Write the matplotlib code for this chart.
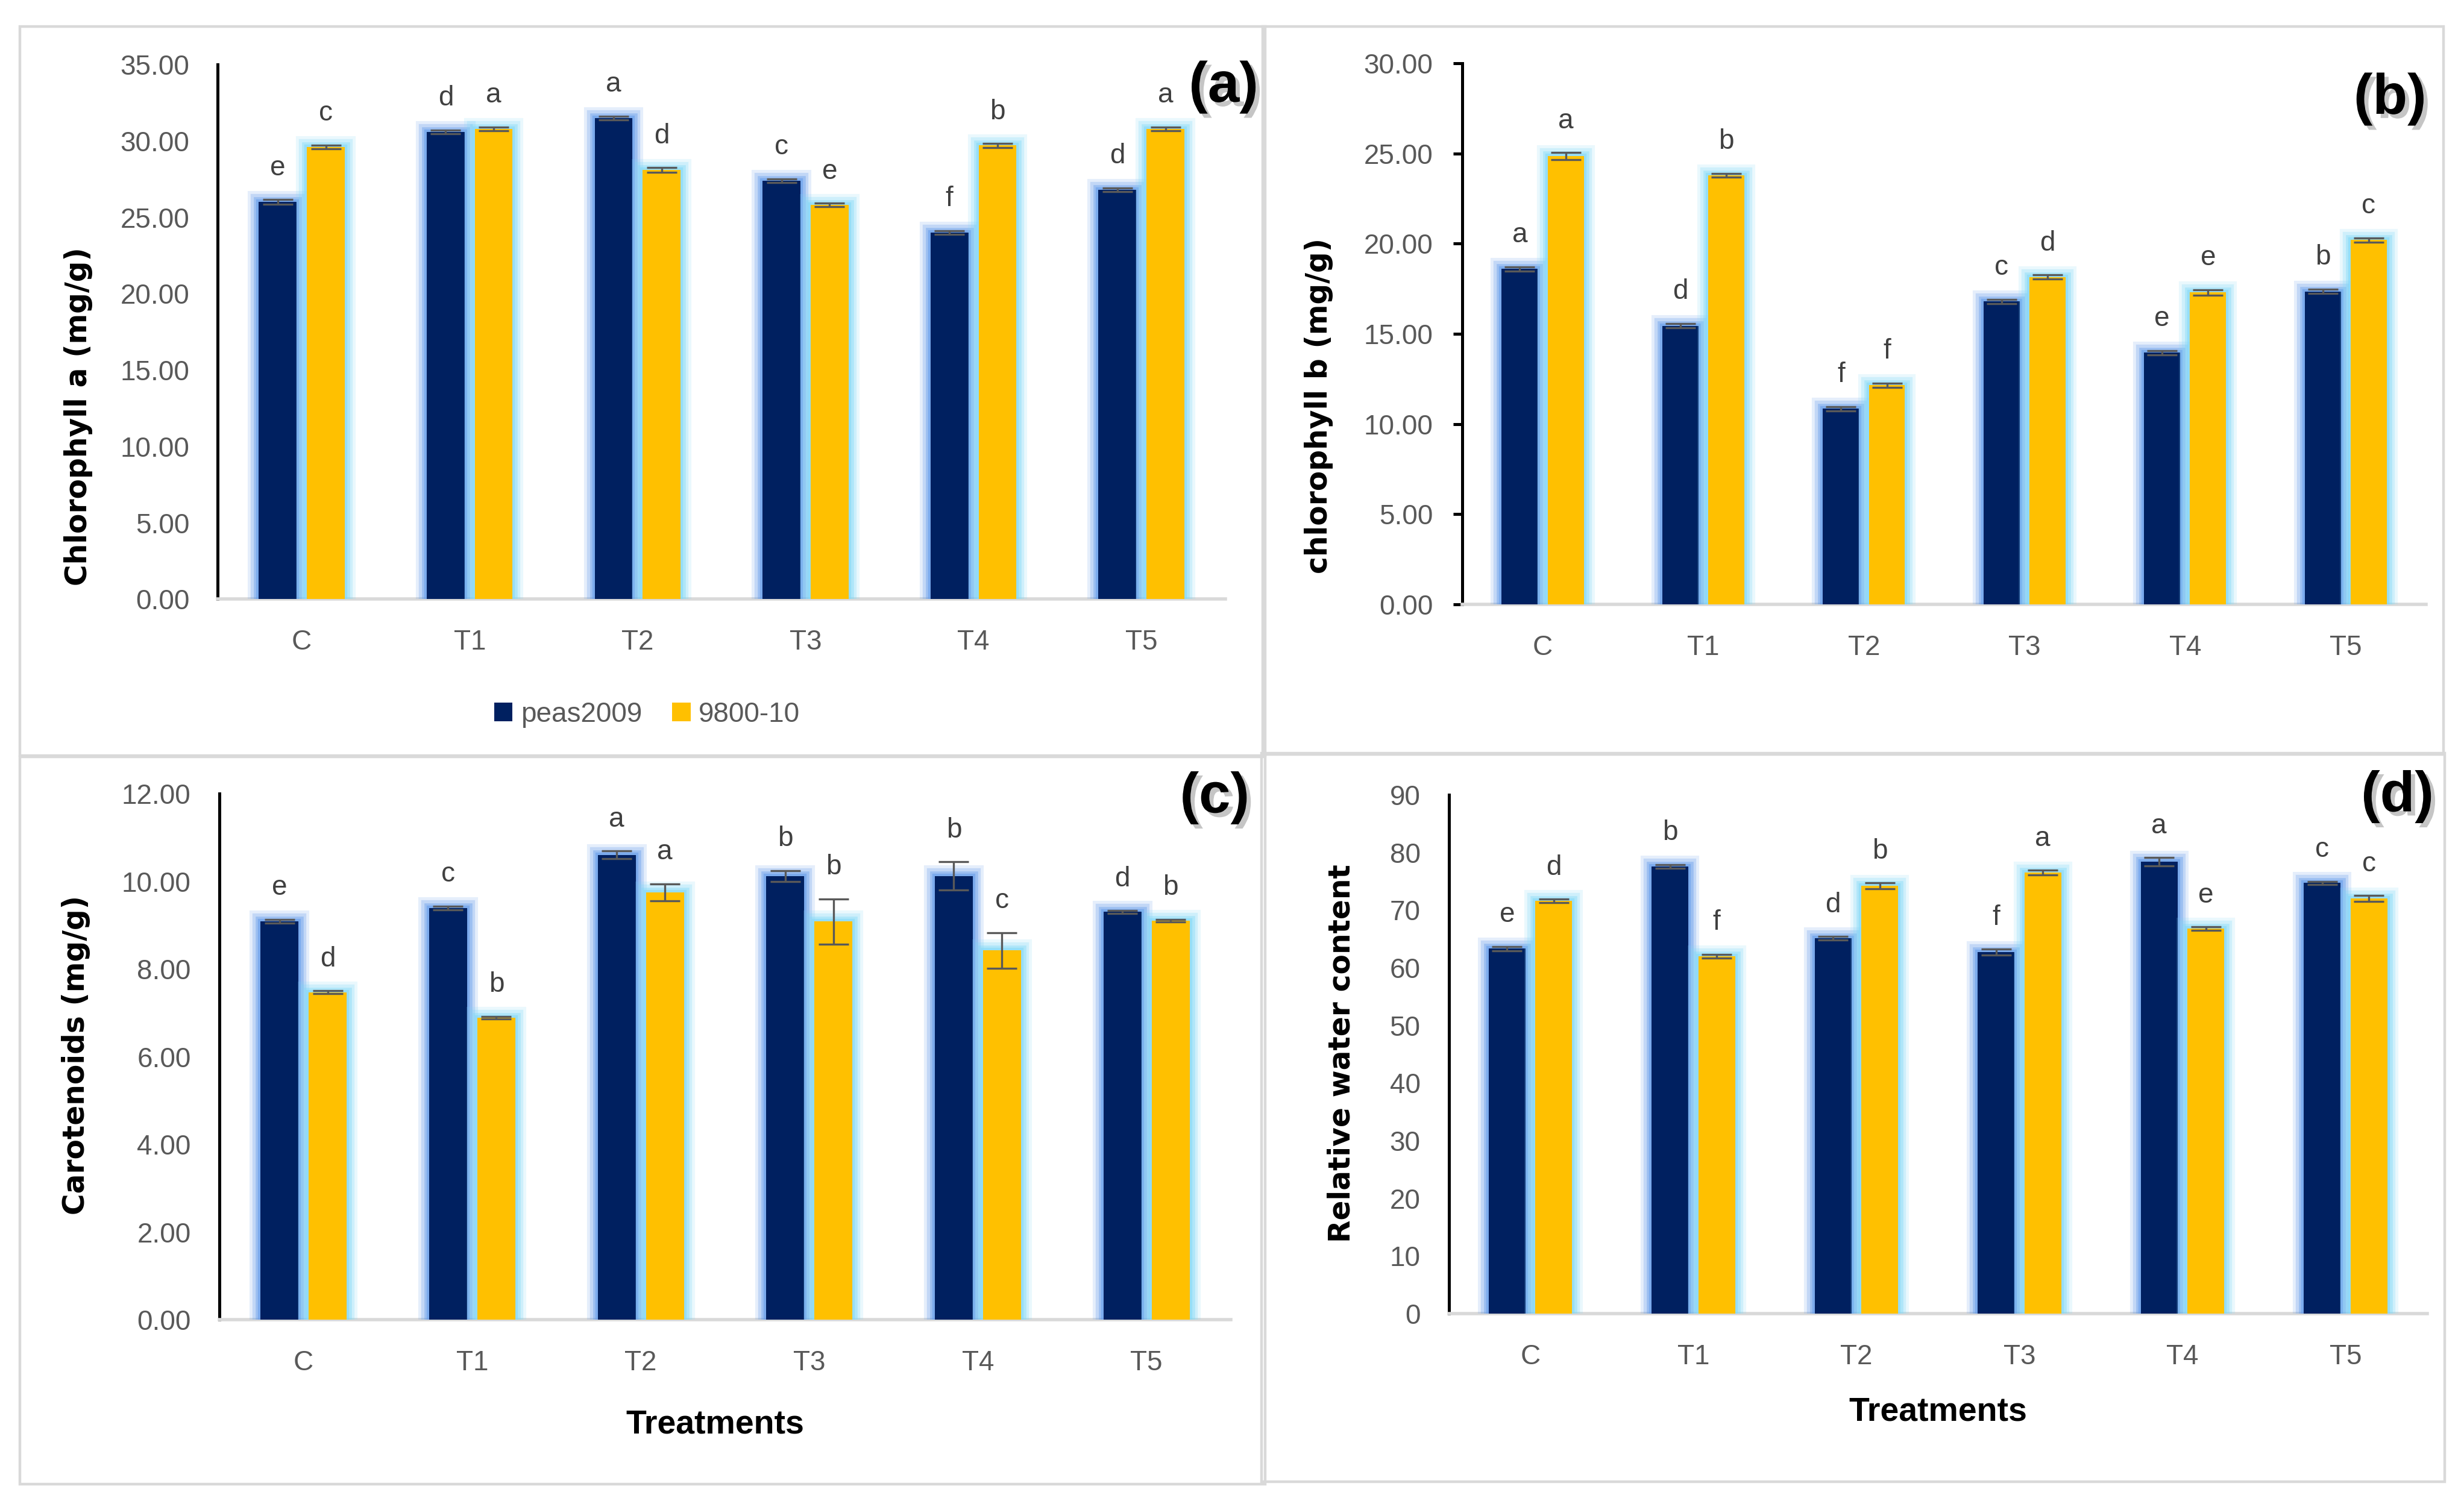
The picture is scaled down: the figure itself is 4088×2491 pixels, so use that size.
import numpy as np
import matplotlib
matplotlib.use("Agg")
import matplotlib.pyplot as plt
import matplotlib.patheffects as pe
from matplotlib.patches import Patch, Rectangle

# --------------------------------------------------------------------------
# data
# --------------------------------------------------------------------------
treatments = ["C", "T1", "T2", "T3", "T4", "T5"]
series_names = ["peas2009", "9800-10"]

chl_a_peas = [26.0, 30.6, 31.5, 27.4, 24.0, 26.8]
chl_a_9800 = [29.6, 30.8, 28.1, 25.8, 29.7, 30.8]
chl_a_peas_err = [0.15, 0.12, 0.12, 0.12, 0.12, 0.12]
chl_a_9800_err = [0.12, 0.12, 0.15, 0.12, 0.12, 0.12]
chl_a_peas_let = ["e", "d", "a", "c", "f", "d"]
chl_a_9800_let = ["c", "a", "d", "e", "b", "a"]

chl_b_peas = [18.6, 15.45, 10.85, 16.8, 13.95, 17.35]
chl_b_9800 = [24.85, 23.8, 12.15, 18.15, 17.3, 20.2]
chl_b_peas_err = [0.12, 0.12, 0.12, 0.12, 0.12, 0.12]
chl_b_9800_err = [0.2, 0.1, 0.12, 0.12, 0.15, 0.12]
chl_b_peas_let = ["a", "d", "f", "c", "e", "b"]
chl_b_9800_let = ["a", "b", "f", "d", "e", "c"]

car_peas = [9.09, 9.39, 10.6, 10.12, 10.12, 9.3]
car_9800 = [7.47, 6.89, 9.75, 9.08, 8.42, 9.1]
car_peas_err = [0.04, 0.04, 0.09, 0.12, 0.32, 0.03]
car_9800_err = [0.03, 0.03, 0.19, 0.52, 0.41, 0.03]
car_peas_let = ["e", "c", "a", "b", "b", "d"]
car_9800_let = ["d", "b", "a", "b", "c", "b"]

rwc_peas = [63.3, 77.6, 65.1, 62.7, 78.4, 74.7]
rwc_9800 = [71.6, 62.0, 74.2, 76.5, 66.8, 72.0]
rwc_peas_err = [0.4, 0.3, 0.3, 0.5, 0.7, 0.3]
rwc_9800_err = [0.3, 0.3, 0.5, 0.4, 0.3, 0.5]
rwc_peas_let = ["e", "b", "d", "f", "a", "c"]
rwc_9800_let = ["d", "f", "b", "a", "e", "c"]

# --------------------------------------------------------------------------
# style
# --------------------------------------------------------------------------
NAVY = "#002060"
GOLD = "#FFC000"
NAVY_GLOW = "#5E98EA"
GOLD_GLOW = "#7FD8F7"
TICKCOL = "#595959"
LETCOL = "#404040"
FRAME = "#D9D9D9"
TXT = ["Liberation Sans", "DejaVu Sans"]

plt.rcParams["font.family"] = TXT


def glow(color):
    # soft halo like the Excel "glow" effect
    return [pe.Stroke(linewidth=13, foreground=color, alpha=0.16),
            pe.Stroke(linewidth=9.5, foreground=color, alpha=0.26),
            pe.Stroke(linewidth=6, foreground=color, alpha=0.38),
            pe.Stroke(linewidth=3, foreground=color, alpha=0.5),
            pe.Normal()]


def panel(fig, rect, peas, other, peas_err, other_err, peas_let, other_let,
          ymax, ystep, fmt, ylabel, ylab_xy, tag, tag_xy, ticks_out=False,
          xlabel=None, xlab_xy=None):
    ax = fig.add_axes(rect)
    x = np.arange(len(treatments))
    w, off = 0.225, 0.143

    for vals, err, lets, col, gcol, dx in (
            (peas, peas_err, peas_let, NAVY, NAVY_GLOW, -off),
            (other, other_err, other_let, GOLD, GOLD_GLOW, off)):
        bars = ax.bar(x + dx, vals, width=w, color=col, edgecolor=col,
                      linewidth=0, zorder=3)
        for b in bars:
            b.set_path_effects(glow(gcol))
        ax.errorbar(x + dx, vals, yerr=err, fmt="none", ecolor=TICKCOL,
                    elinewidth=1.2, capsize=9, capthick=1.2, zorder=5)
        for xi, v, e, l in zip(x + dx, vals, err, lets):
            ax.annotate(l, (xi, v + e), xytext=(0, 11),
                        textcoords="offset points", ha="center", va="bottom",
                        fontsize=16.5, color=LETCOL, zorder=6)

    ax.set_xlim(-0.5, len(treatments) - 0.5)
    ax.set_ylim(0, ymax)
    ax.set_yticks(np.arange(0, ymax + ystep / 2, ystep))
    ax.yaxis.set_major_formatter(matplotlib.ticker.FormatStrFormatter(fmt))
    ax.set_xticks(x)
    ax.set_xticklabels(treatments)

    for s in ("top", "right"):
        ax.spines[s].set_visible(False)
    ax.spines["left"].set_color("black")
    ax.spines["left"].set_linewidth(1.8)
    ax.spines["bottom"].set_color(FRAME)
    ax.spines["bottom"].set_linewidth(2.0)

    ax.tick_params(axis="x", length=0, pad=18, labelsize=16.5,
                   labelcolor=TICKCOL)
    if ticks_out:
        ax.tick_params(axis="y", length=5.5, width=1.8, color="black",
                       direction="out", pad=12, labelsize=16.5,
                       labelcolor=TICKCOL)
    else:
        ax.tick_params(axis="y", length=0, pad=17, labelsize=16.5,
                       labelcolor=TICKCOL)

    ax.set_ylabel(ylabel, fontsize=17.5, fontweight="bold", color="black",
                  family="DejaVu Sans")
    ax.yaxis.set_label_coords(*ylab_xy)
    if xlabel:
        ax.set_xlabel(xlabel, fontsize=20, fontweight="bold", color="black")
        ax.xaxis.set_label_coords(*xlab_xy)

    fig.text(tag_xy[0], tag_xy[1], tag, ha="center", va="center",
             fontsize=34, fontweight="bold", color="black",
             path_effects=[pe.withSimplePatchShadow(offset=(2.5, -2.5),
                                                    shadow_rgbFace="#808080",
                                                    alpha=0.45)])
    return ax


fig = plt.figure(figsize=(20.44, 12.455), dpi=200)

# light grey frames around each panel (figure pixels)
W, H = 4088, 2491
frames = [(33, 44, 2099, 1254), (2095, 44, 4054, 1252),
          (33, 1256, 2099, 2463), (2093, 1250, 4056, 2459)]
for x0, y0, x1, y1 in frames:
    fig.patches.append(Rectangle((x0 / W, 1 - y1 / H), (x1 - x0) / W,
                                 (y1 - y0) / H, transform=fig.transFigure,
                                 fill=False, edgecolor=FRAME, linewidth=1.6))

panel(fig, [0.0884, 0.6008, 0.4089, 0.3562],
      chl_a_peas, chl_a_9800, chl_a_peas_err, chl_a_9800_err,
      chl_a_peas_let, chl_a_9800_let, 35, 5, "%.2f",
      "Chlorophyll a (mg/g)", (-0.124, 0.342), "(a)", (0.4966, 0.942))

panel(fig, [0.5935, 0.5973, 0.3911, 0.3606],
      chl_b_peas, chl_b_9800, chl_b_peas_err, chl_b_9800_err,
      chl_b_peas_let, chl_b_9800_let, 30, 5, "%.2f",
      "chlorophyll b (mg/g)", (-0.134, 0.367), "(b)", (0.970, 0.934),
      ticks_out=True)

panel(fig, [0.089, 0.1208, 0.4105, 0.3505],
      car_peas, car_9800, car_peas_err, car_9800_err,
      car_peas_let, car_9800_let, 12, 2, "%.2f",
      "Carotenoids (mg/g)", (-0.1275, 0.503), "(c)", (0.493, 0.4685),
      xlabel="Treatments", xlab_xy=(0.49, -0.17))

panel(fig, [0.588, 0.1248, 0.397, 0.3457],
      rwc_peas, rwc_9800, rwc_peas_err, rwc_9800_err,
      rwc_peas_let, rwc_9800_let, 90, 10, "%d",
      "Relative water content", (-0.095, 0.502), "(d)", (0.973, 0.4693),
      xlabel="Treatments", xlab_xy=(0.50, -0.16))

handles = [Patch(facecolor=NAVY, label=series_names[0]),
           Patch(facecolor=GOLD, label=series_names[1])]
fig.legend(handles=handles, loc="center", bbox_to_anchor=(0.2626, 0.524),
           ncol=2, frameon=False, fontsize=16.5, handlelength=0.66,
           handleheight=0.66, handletextpad=0.3, columnspacing=1.1,
           labelcolor=TICKCOL)

fig.savefig("out.png", dpi=200, facecolor="white")
